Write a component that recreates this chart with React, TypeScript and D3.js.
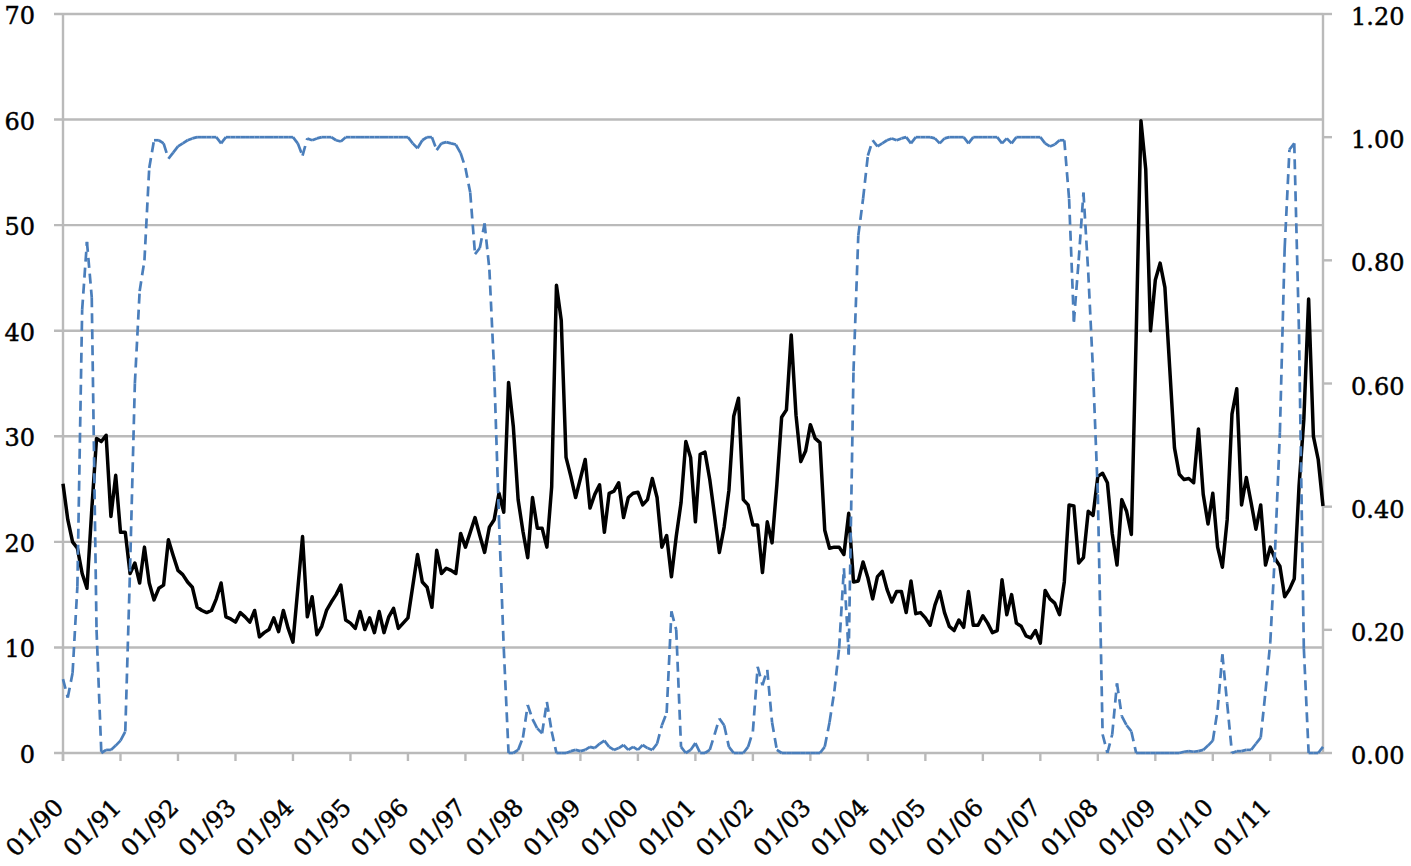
import React from "react";
import * as d3 from "d3";

// Monthly series, Jan 1990 .. Dec 2011 (264 months)
const vix2Y: number[] = [
  // 1990
  25.5, 22.1, 20.0, 19.4, 17.0, 15.6, 23.0, 29.8, 29.5, 30.1, 22.4, 26.3,
  // 1991
  20.9, 20.9, 17.0, 18.0, 16.1, 19.5, 16.1, 14.5, 15.6, 15.9, 20.2, 18.7,
  // 1992
  17.3, 16.9, 16.2, 15.7, 13.8, 13.5, 13.3, 13.5, 14.6, 16.1, 12.9, 12.7,
  // 1993
  12.4, 13.3, 12.9, 12.4, 13.5, 11.0, 11.4, 11.7, 12.8, 11.5, 13.5, 11.8,
  // 1994
  10.5, 15.5, 20.5, 12.9, 14.8, 11.2, 12.0, 13.5, 14.3, 15.0, 15.9, 12.6,
  // 1995
  12.3, 11.8, 13.4, 11.7, 12.8, 11.4, 13.4, 11.4, 12.9, 13.7, 11.8, 12.3,
  // 1996
  12.8, 15.8, 18.8, 16.2, 15.7, 13.8, 19.2, 17.0, 17.5, 17.3, 17.0, 20.8,
  // 1997
  19.5, 20.9, 22.3, 20.6, 19.0, 21.4, 22.1, 24.6, 22.8, 35.1, 30.9, 24.0,
  // 1998
  21.0, 18.5, 24.2, 21.3, 21.3, 19.5, 25.2, 44.3, 41.0, 28.0, 26.2, 24.2,
  // 1999
  26.0, 27.8, 23.2, 24.5, 25.4, 20.9, 24.6, 24.8, 25.6, 22.3, 24.2, 24.6,
  // 2000
  24.7, 23.5, 24.0, 26.0, 24.2, 19.5, 20.6, 16.7, 20.5, 23.7, 29.5, 28.0,
  // 2001
  21.9, 28.3, 28.5, 25.9, 22.5, 19.0, 21.4, 24.9, 31.9, 33.6, 24.0, 23.5,
  // 2002
  21.6, 21.6, 17.1, 21.9, 19.9, 25.4, 31.8, 32.5, 39.6, 32.0, 27.6, 28.6,
  // 2003
  31.1, 29.8, 29.4, 21.1, 19.4, 19.5, 19.5, 18.8, 22.7, 16.2, 16.3, 18.1,
  // 2004
  16.6, 14.6, 16.7, 17.2, 15.5, 14.3, 15.3, 15.3, 13.3, 16.3, 13.2, 13.3,
  // 2005
  12.8, 12.1, 14.0, 15.3, 13.3, 12.0, 11.6, 12.6, 11.9, 15.3, 12.1, 12.1,
  // 2006
  13.0, 12.3, 11.4, 11.6, 16.4, 13.1, 15.0, 12.3, 12.0, 11.1, 10.9, 11.6,
  // 2007
  10.4, 15.4, 14.6, 14.2, 13.1, 16.2, 23.5, 23.4, 18.0, 18.5, 22.9, 22.5,
  // 2008
  26.2, 26.5, 25.6, 20.8, 17.8, 24.0, 22.9, 20.7, 39.4, 59.9, 55.3, 40.0,
  // 2009
  44.8, 46.4, 44.1, 36.5, 28.9, 26.4, 25.9, 26.0, 25.6, 30.7, 24.5, 21.7,
  // 2010
  24.6, 19.5, 17.6, 22.1, 32.1, 34.5, 23.5, 26.1, 23.7, 21.2, 23.5, 17.8,
  // 2011
  19.5, 18.4, 17.7, 14.8, 15.5, 16.5, 25.3, 31.6, 43.0, 30.0, 27.8, 23.4,
];

const regimeProb: number[] = [
  // 1990
  0.12, 0.09, 0.13, 0.27, 0.72, 0.83, 0.74, 0.2, 0.0, 0.005, 0.005, 0.012,
  // 1991
  0.02, 0.035, 0.3, 0.6, 0.75, 0.8, 0.95, 0.995, 0.995, 0.99, 0.965, 0.975,
  // 1992
  0.985, 0.99, 0.995, 0.998, 1.0, 1.0, 1.0, 1.0, 1.0, 0.99, 1.0, 1.0,
  // 1993
  1.0, 1.0, 1.0, 1.0, 1.0, 1.0, 1.0, 1.0, 1.0, 1.0, 1.0, 1.0,
  // 1994
  1.0, 0.99, 0.97, 0.998, 0.995, 0.998, 1.0, 1.0, 1.0, 0.995, 0.993, 1.0,
  // 1995
  1.0, 1.0, 1.0, 1.0, 1.0, 1.0, 1.0, 1.0, 1.0, 1.0, 1.0, 1.0,
  // 1996
  1.0, 0.99, 0.982, 0.995, 1.0, 1.0, 0.979, 0.99, 0.992, 0.99, 0.988, 0.974,
  // 1997
  0.95, 0.91, 0.81, 0.82, 0.86, 0.785, 0.62, 0.38, 0.17, 0.0, 0.0, 0.005,
  // 1998
  0.025, 0.078, 0.055, 0.04, 0.032, 0.083, 0.035, 0.0, 0.0, 0.0, 0.003, 0.005,
  // 1999
  0.003, 0.005, 0.01, 0.008, 0.015, 0.02, 0.01, 0.005, 0.008, 0.013, 0.005, 0.01,
  // 2000
  0.005, 0.013, 0.008, 0.005, 0.015, 0.045, 0.065, 0.23, 0.2, 0.01, 0.0, 0.005,
  // 2001
  0.016, 0.0, 0.0, 0.005, 0.03, 0.056, 0.045, 0.01, 0.0, 0.0, 0.0, 0.01,
  // 2002
  0.035, 0.14, 0.11, 0.135, 0.05, 0.005, 0.0, 0.0, 0.0, 0.0, 0.0, 0.0,
  // 2003
  0.0, 0.0, 0.0, 0.01, 0.05, 0.1, 0.17, 0.3, 0.16, 0.62, 0.84, 0.9,
  // 2004
  0.97, 0.995, 0.985, 0.99, 0.995, 0.998, 0.995, 0.998, 1.0, 0.99, 1.0, 1.0,
  // 2005
  1.0, 1.0, 0.998, 0.99, 0.998, 1.0, 1.0, 1.0, 1.0, 0.99, 1.0, 1.0,
  // 2006
  1.0, 1.0, 1.0, 1.0, 0.99, 0.998, 0.99, 1.0, 1.0, 1.0, 1.0, 1.0,
  // 2007
  1.0, 0.99, 0.985, 0.988, 0.995, 0.995, 0.9, 0.7, 0.8, 0.91, 0.78, 0.62,
  // 2008
  0.42, 0.03, 0.0, 0.03, 0.113, 0.06, 0.045, 0.035, 0.0, 0.0, 0.0, 0.0,
  // 2009
  0.0, 0.0, 0.0, 0.0, 0.0, 0.0, 0.002, 0.003, 0.002, 0.003, 0.005, 0.012,
  // 2010
  0.02, 0.07, 0.16, 0.08, 0.0, 0.003, 0.003, 0.005, 0.005, 0.015, 0.025, 0.1,
  // 2011
  0.18, 0.33, 0.52, 0.82, 0.98, 0.99, 0.68, 0.17, 0.0, 0.0, 0.0, 0.01,
];

const xTickLabels: string[] = [
  "01/90", "01/91", "01/92", "01/93", "01/94", "01/95", "01/96", "01/97",
  "01/98", "01/99", "01/00", "01/01", "01/02", "01/03", "01/04", "01/05",
  "01/06", "01/07", "01/08", "01/09", "01/10", "01/11",
];
const leftTicks: number[] = [0, 10, 20, 30, 40, 50, 60, 70];
const rightTicks: number[] = [0, 0.2, 0.4, 0.6, 0.8, 1.0, 1.2];

const W = 1411;
const H = 866;
const PLOT = { left: 63, right: 1323, top: 14, bottom: 753 };
const FONT = "'DejaVu Serif', 'Liberation Serif', serif";
const GRID = "#bababa";
const BLUE = "#4a7ebb";

export default function App() {
  const x = d3.scaleLinear().domain([0, vix2Y.length - 1]).range([PLOT.left, PLOT.right]);
  const yL = d3.scaleLinear().domain([0, 70]).range([PLOT.bottom, PLOT.top]);
  const yR = d3.scaleLinear().domain([0, 1.2]).range([PLOT.bottom, PLOT.top]);

  const blackLine = d3
    .line<number>()
    .x((_, i) => x(i))
    .y((d) => yL(d))(vix2Y) as string;

  const segLine = d3
    .line<[number, number]>()
    .x((d) => x(d[0]))
    .y((d) => yR(d[1]));
  const pts: [number, number][] = regimeProb.map((v, i) => [i, v]);
  const blueSegs = d3.pairs(pts).map(([a, b]) => segLine([a, b]) as string);

  const textProps = {
    fontFamily: FONT,
    fontSize: 24,
    fill: "#000",
    stroke: "#000",
    strokeWidth: 0.45,
  };

  return (
    <div style={{ position: "absolute", left: 0, top: 0, width: W, height: H }}>
      <svg width={W} height={H} style={{ display: "block", background: "#fff" }}>
        {/* horizontal gridlines (left axis) */}
        {leftTicks.map((t) => (
          <line
            key={"g" + t}
            x1={PLOT.left - 9}
            x2={PLOT.right}
            y1={yL(t)}
            y2={yL(t)}
            stroke={GRID}
            strokeWidth={2.4}
          />
        ))}
        {/* left axis line */}
        <line x1={PLOT.left} x2={PLOT.left} y1={PLOT.top} y2={PLOT.bottom + 8} stroke={GRID} strokeWidth={2.4} />
        {/* right axis line + ticks */}
        <line x1={PLOT.right} x2={PLOT.right} y1={PLOT.top} y2={PLOT.bottom} stroke={GRID} strokeWidth={2.4} />
        {rightTicks.map((t) => (
          <line
            key={"rt" + t}
            x1={PLOT.right}
            x2={PLOT.right + 9}
            y1={yR(t)}
            y2={yR(t)}
            stroke={GRID}
            strokeWidth={2.4}
          />
        ))}
        {/* x ticks */}
        {xTickLabels.map((lab, k) => (
          <line
            key={"xt" + lab}
            x1={x(k * 12)}
            x2={x(k * 12)}
            y1={PLOT.bottom}
            y2={PLOT.bottom + 8}
            stroke={GRID}
            strokeWidth={2.4}
          />
        ))}

        {/* left tick labels */}
        {leftTicks.map((t) => (
          <text key={"ll" + t} x={35} y={yL(t) + 10} textAnchor="end" {...textProps}>
            {t}
          </text>
        ))}
        {/* right tick labels */}
        {rightTicks.map((t) => (
          <text key={"rl" + t} x={1351} y={yR(t) + 11} textAnchor="start" {...textProps}>
            {t.toFixed(2)}
          </text>
        ))}
        {/* x tick labels rotated */}
        {xTickLabels.map((lab, k) => {
          const tx = x(k * 12) + 2;
          const ty = 809;
          return (
            <text
              key={"xl" + lab}
              x={tx}
              y={ty}
              transform={`rotate(-45 ${tx} ${ty})`}
              textAnchor="end"
              {...textProps}
            >
              {lab}
            </text>
          );
        })}

        {/* black series */}
        <path d={blackLine} fill="none" stroke="#000" strokeWidth={3.5} strokeLinejoin="round" />

        {/* blue dashed series, dash pattern restarting on each segment */}
        {blueSegs.map((d, i) => (
          <path
            key={"b" + i}
            d={d}
            fill="none"
            stroke={BLUE}
            strokeWidth={2.7}
            strokeDasharray="10 6"
            strokeLinecap="butt"
          />
        ))}
      </svg>
    </div>
  );
}
